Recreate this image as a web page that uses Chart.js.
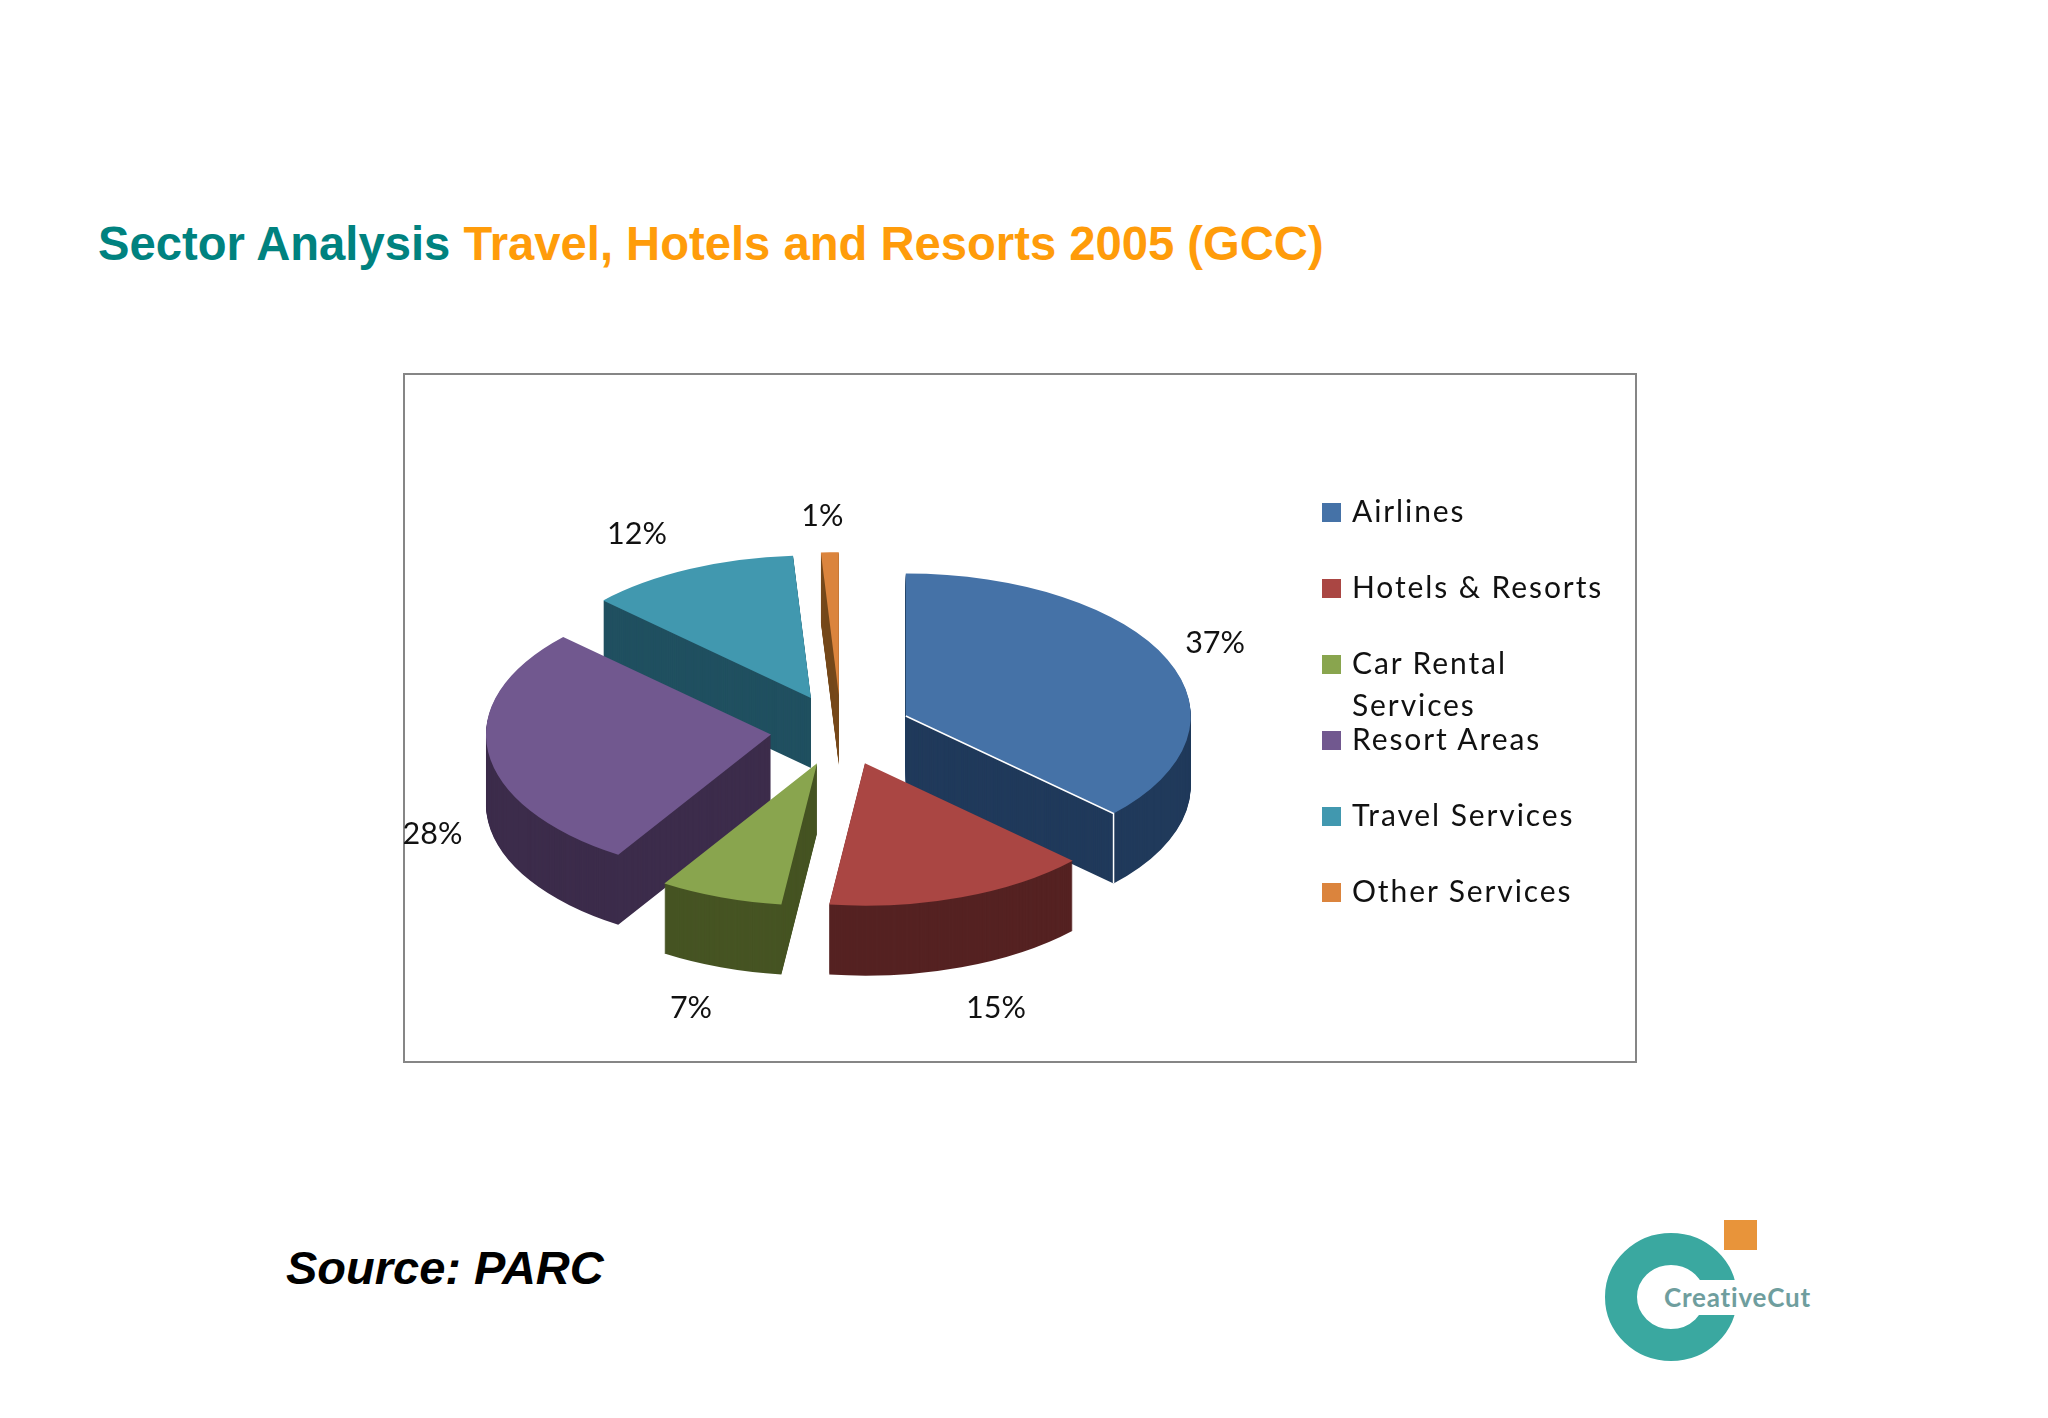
<!DOCTYPE html>
<html>
<head>
<meta charset="utf-8">
<title>Sector Analysis</title>
<script src="https://cdn.jsdelivr.net/npm/chart.js@4"></script>
<style>
  html,body{margin:0;padding:0;background:#fff;}
  body{position:relative;width:2048px;height:1418px;overflow:hidden;font-family:"Liberation Sans",Arial,sans-serif;}
  .title{position:absolute;left:98px;top:217px;font-size:47.2px;font-weight:bold;line-height:54px;white-space:nowrap;}
  .title .a{color:#00827f;}
  .title .b{color:#ff9c0a;}
  .frame{position:absolute;left:403px;top:373px;width:1230px;height:686px;border:2.5px solid #868686;}
  canvas{position:absolute;left:404px;top:373px;}
  #legend{position:absolute;left:1322px;top:475px;font-family:Lato,sans-serif;font-size:30px;letter-spacing:1.9px;color:#111;}
  #legend .item{position:relative;height:76px;width:300px;}
  #legend .box{position:absolute;left:0;top:28px;width:19px;height:19px;}
  #legend .txt{position:absolute;left:30px;top:14px;width:268px;line-height:42px;}
  .source{position:absolute;left:286px;top:1241px;font-size:47px;font-weight:bold;font-style:italic;line-height:54px;color:#000;}
  .logo{position:absolute;left:1580px;top:1200px;}
</style>
</head>
<body>
<div class="title"><span class="a">Sector Analysis</span> <span class="b">Travel, Hotels and Resorts 2005 (GCC)</span></div>
<div class="frame"></div>
<canvas id="pizza" width="1232" height="690"></canvas>
<div id="legend"></div>
<div class="source">Source: PARC</div>
<svg class="logo" width="260" height="180">
  <ellipse cx="91" cy="97" rx="50" ry="48" fill="none" stroke="#3aa8a0" stroke-width="32"/>
  <rect x="92" y="80" width="80" height="35" fill="#fff"/>
  <rect x="144" y="20" width="33" height="30" fill="#e8943a"/>
  <text x="84" y="107" font-family="Lato,sans-serif" font-weight="bold" font-size="26" letter-spacing="0.8" fill="#6f9e9e">CreativeCut</text>
</svg>

<script>
// Dados
const categorias = ['Airlines','Hotels & Resorts','Car Rental Services','Resort Areas','Travel Services','Other Services'];
const valores = [37,15,7,28,12,1];
const coresTopo = ['#4572a7','#aa4643','#89a54e','#71588f','#4198af','#db843d'];
const coresLado = ['#203a5b','#552222','#465423','#3c2c4b','#205060','#774a1d'];

// Geometria do efeito 3D
const tilt = 0.5, depth = 70, explode = 70.6, labelR = 437;
const labelNudge = [[-27,0],[7,3],[-2,3],[25,7],[-18,2],[-5,5]];

// Legenda
const legend = document.getElementById('legend');
categorias.forEach((c,i)=>{
  const item = document.createElement('div');
  item.className = 'item';
  item.innerHTML = '<span class="box" style="background:'+coresTopo[i]+'"></span><span class="txt">'+c.replace('&','&amp;')+'</span>';
  legend.appendChild(item);
});

function meio(arc){ return (arc.startAngle+arc.endAngle)/2; }

// Pizza inclinada: empilha a fatia escura e desenha o topo por cima
const pizza3d = {
  id:'pizza3d',
  beforeDatasetDraw(chart,args){
    const ctx = chart.ctx;
    const arcs = chart.getDatasetMeta(args.index).data;
    const ordem = arcs.map((a,i)=>i).sort((p,q)=>Math.sin(meio(arcs[p]))-Math.sin(meio(arcs[q])));
    ordem.forEach(i=>{
      const arc = arcs[i];
      const m = meio(arc);
      const ex = Math.cos(m)*explode, ey = Math.sin(m)*explode*tilt;
      const original = arc.options;
      const desenha = d=>{
        ctx.save();
        ctx.translate(arc.x+ex, arc.y+ey+d);
        ctx.scale(1,tilt);
        ctx.translate(-arc.x,-arc.y);
        arc.draw(ctx);
        ctx.restore();
      };
      arc.options = Object.assign({},original,{backgroundColor:coresLado[i]});
      for(let d=depth;d>0;d--) desenha(d);
      arc.options = original;
      desenha(0);
      // filete branco na aresta da primeira fatia
      if(i===0){
        const px = arc.x+ex, py = arc.y+ey;
        const rx = px+Math.cos(arc.endAngle)*arc.outerRadius, ry = py+Math.sin(arc.endAngle)*arc.outerRadius*tilt;
        ctx.save();
        ctx.strokeStyle = '#fff';
        ctx.lineWidth = 1.5;
        ctx.beginPath();
        ctx.moveTo(px,py);
        ctx.lineTo(rx,ry);
        ctx.lineTo(rx,ry+depth);
        ctx.stroke();
        ctx.restore();
      }
    });
    return false;
  },
  afterDatasetsDraw(chart){
    const ctx = chart.ctx;
    const arcs = chart.getDatasetMeta(0).data;
    ctx.save();
    ctx.font = '30.5px Lato';
    ctx.fillStyle = '#111';
    ctx.textAlign = 'center';
    ctx.textBaseline = 'middle';
    arcs.forEach((arc,i)=>{
      const m = meio(arc);
      const frente = Math.sin(m)>0 ? depth : 0;
      const x = arc.x+Math.cos(m)*labelR+labelNudge[i][0];
      const y = arc.y+Math.sin(m)*labelR*tilt+frente+labelNudge[i][1];
      ctx.fillText(valores[i]+'%',x,y);
    });
    ctx.restore();
  }
};

new Chart(document.getElementById('pizza').getContext('2d'),{
  type:'pie',
  data:{
    labels:categorias,
    datasets:[{data:valores,backgroundColor:coresTopo,borderWidth:0}]
  },
  options:{
    responsive:false,
    animation:false,
    radius:285,
    layout:{padding:{right:358,top:24}},
    plugins:{legend:{display:false},tooltip:{enabled:false}}
  },
  plugins:[pizza3d]
});
</script>
</body>
</html>
